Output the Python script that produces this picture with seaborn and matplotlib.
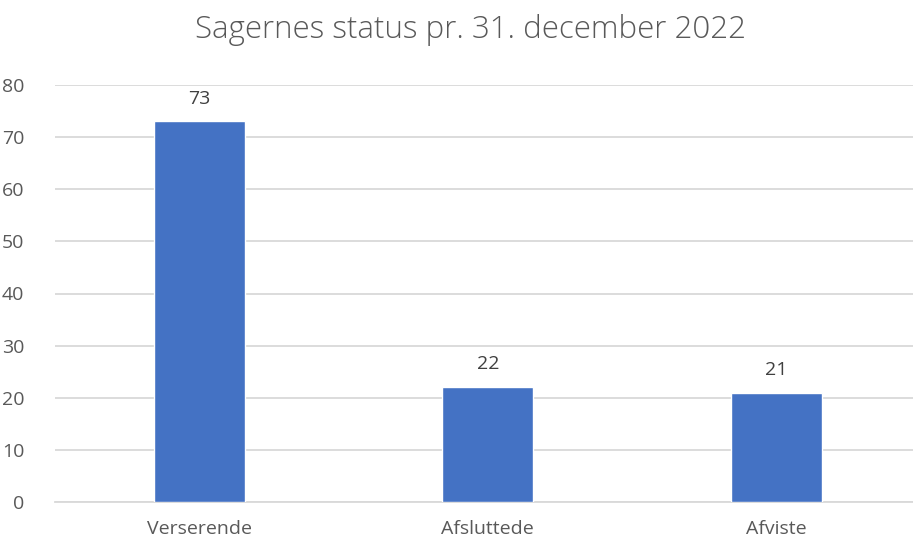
import matplotlib
matplotlib.use("Agg")
import matplotlib.pyplot as plt
import seaborn as sns
import pandas as pd

# data
categories = ["Verserende", "Afsluttede", "Afviste"]
counts = [73, 22, 21]
title = "Sagernes status pr. 31. december 2022"

sns.set_style("white")
plt.rcParams["font.family"] = ["Open Sans", "DejaVu Sans"]

text_color = "#595959"
bar_color = "#4472C4"
grid_color = "#D9D9D9"

df = pd.DataFrame({"status": categories, "antal": counts})

fig = plt.figure(figsize=(9.13, 5.41), dpi=100)
W, H = 913, 541
left, right, top, bottom = 55, 920.5, 85, 502
ax = fig.add_axes([left / W, (H - bottom) / H, (right - left) / W, (bottom - top) / H])

sns.barplot(data=df, x="status", y="antal", color=bar_color, width=0.315,
            saturation=1, ax=ax, zorder=3)

ax.set_ylim(0, 80)
ax.set_yticks(range(0, 81, 10))
ax.set_xlim(-0.5, 2.5)
ax.yaxis.grid(True, color=grid_color, linewidth=1.3, zorder=0)
ax.set_axisbelow(True)
for s in ["top", "right", "left"]:
    ax.spines[s].set_visible(False)
ax.spines["bottom"].set_color(grid_color)
ax.spines["bottom"].set_linewidth(1.3)
ax.tick_params(axis="both", length=0, labelsize=14, colors=text_color)
ax.tick_params(axis="x", pad=13)
ax.tick_params(axis="y", pad=22)
ax.set_xlabel("")
ax.set_ylabel("")

for c in ax.containers:
    ax.bar_label(c, padding=10, fontsize=14, color="#404040")

fig.text(470 / W, 1 - 30 / H, title, ha="center", va="center",
         fontsize=22.5, fontweight="light", color=text_color)

fig.savefig("out.png", dpi=100)
